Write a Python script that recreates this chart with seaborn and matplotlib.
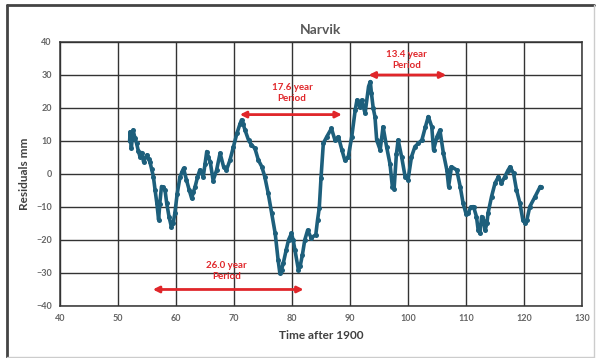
import matplotlib
matplotlib.use("Agg")
from matplotlib import pyplot as plt
from matplotlib.lines import Line2D
import seaborn as sns
import pandas as pd

# Narvik residuals
years = [52.0, 52.1, 52.3, 52.6, 52.9, 53.2, 53.5, 53.8, 54.1, 54.4, 55.0, 55.3,
         55.5, 55.8, 56.1, 56.4, 56.7, 57.0, 57.2, 57.5, 57.8, 58.1, 58.4, 58.8,
         59.2, 59.5, 59.8, 60.2, 60.7, 61.0, 61.3, 61.8, 62.3, 62.7, 63.0, 63.3,
         63.7, 64.1, 64.7, 65.0, 65.3, 65.6, 65.9, 66.4, 67.0, 67.6, 68.2, 68.7,
         69.3, 69.9, 70.5, 71.0, 71.3, 71.6, 71.9, 72.5, 73.0, 73.6, 74.2, 74.8,
         75.3, 75.9, 76.5, 77.1, 77.6, 77.9, 78.2, 78.5, 79.0, 79.4, 79.9, 80.2,
         80.5, 81.1, 81.4, 81.8, 82.2, 82.7, 83.3, 84.1, 84.4, 84.7, 85.0, 85.4,
         86.0, 86.8, 87.4, 88.0, 88.6, 89.1, 89.7, 90.3, 90.9, 91.2, 91.7, 92.0,
         92.6, 93.2, 93.5, 93.7, 94.0, 94.3, 94.6, 95.2, 95.7, 96.3, 96.9, 97.3,
         97.6, 98.0, 98.3, 98.9, 99.5, 100.0, 100.6, 101.2, 101.8, 102.4, 103.0,
         103.5, 104.1, 104.4, 105.0, 105.5, 106.1, 106.7, 107.0, 107.5, 108.4,
         109.0, 109.5, 110.0, 110.4, 110.8, 111.3, 111.8, 112.1, 112.4, 112.7,
         113.0, 113.3, 113.6, 113.8, 114.4, 115.0, 115.6, 116.1, 116.7, 117.2,
         117.6, 118.2, 118.7, 119.3, 119.8, 120.2, 120.5, 121.0, 121.9, 122.8,
         123.0]
residuals = [10, 12.8, 8, 13.3, 11, 9.3, 7, 5.2, 6.5, 3.7, 5.8, 4.5,
             3.7, 1.5, -0.8, -5, -8.9, -13.9, -9, -3.8, -4, -4.8, -8.9, -13,
             -16, -15, -11.9, -6, -0.8, 0.5, 1.7, -1.8, -5, -7.4, -5.5, -3.8,
             -1, 1.2, -0.8, 3, 6.8, 5, 3.7, -2, 1.2, 6.3, 2.2, 1.2,
             4.2, 8.3, 12.3, 15, 16.4, 15, 13.3, 10.3, 8.8, 7.8, 4.2, 2.2,
             -0.8, -5.9, -11.9, -18, -26, -30, -29, -27, -23, -20, -18, -20,
             -23, -29, -28, -24.4, -20, -17, -19.4, -18.4, -14, -10.3, -1.2, 9.3,
             11.3, 13.8, 10.3, 11.3, 7.3, 4.2, 5.2, 11.3, 19.4, 22.4, 20.4, 22.4,
             18.4, 26.5, 28, 24.4, 20, 17.4, 10.3, 7.3, 14.3, 8.3, 3, -3.8,
             -4.5, 6, 10.3, 5.2, -0.8, -1.8, 5.2, 8.3, 9.3, 10.3, 14.3,
             17.4, 14.3, 7.3, 11.3, 13.3, 6.3, 1.2, -3.8, 2.2, 1.2,
             -3.8, -8.9, -12, -11.9, -10, -9.9, -12.9, -17, -18, -12.9,
             -13.9, -17, -15, -11.9, -6.9, -2.8, -0.8, -2.8, -0.8, 1,
             2.2, 0.2, -4.8, -8.9, -13.9, -15, -13.9, -9.9, -6.9, -3.8,
             -4]

# period arrows: start, end, arrow height, label
period_start = [71.0, 93.2, 56.0]
period_end = [88.6, 106.6, 82.0]
period_level = [18, 30, -35]
period_labels = ["17.6 year\nPeriod", "13.4 year\nPeriod", "26.0 year\nPeriod"]
label_x = [80.0, 99.7, 68.7]
label_y = [24.5, 34.5, -29.5]

df = pd.DataFrame({"Time": years, "Residual": residuals})

sns.set_style("white")
plt.rcParams['font.family'] = ['Lato', 'DejaVu Sans']

fig = plt.figure(figsize=(5.96, 3.58), dpi=100)
ax = fig.add_axes([0.1007, 0.1453, 0.8758, 0.7374])

sns.lineplot(data=df, x="Time", y="Residual", ax=ax, color="#1d5f7c",
             linewidth=2.6, marker="o", markersize=3.6, markeredgewidth=0)

red = "#e0262a"
for s, e, lvl, lab, tx, ty in zip(period_start, period_end, period_level,
                                  period_labels, label_x, label_y):
    ax.annotate("", xy=(e, lvl), xytext=(s, lvl),
                arrowprops=dict(arrowstyle="<|-|>", color=red, lw=2,
                                mutation_scale=9, shrinkA=0, shrinkB=0))
    ax.text(tx, ty, lab, color=red, fontsize=7, fontweight="bold",
            ha="center", va="center", linespacing=1.3)

ax.set_xlim(40, 130)
ax.set_ylim(-40, 40)
ax.set_xticks(range(40, 131, 10))
ax.set_yticks(range(-40, 41, 10))
ax.grid(True, color="#333333", linewidth=1.0)
for sp in ax.spines.values():
    sp.set_color("#333333")
    sp.set_linewidth(1.1)
ax.tick_params(axis="both", length=0, labelsize=6.5, labelcolor="#666666", pad=6)
for lbl in ax.get_xticklabels() + ax.get_yticklabels():
    lbl.set_fontweight("bold")

ax.set_xlabel("Time after 1900", fontsize=8.5, fontweight="bold", color="#404040", labelpad=5)
ax.set_ylabel("Residuals mm", fontsize=8.5, fontweight="bold", color="#404040", labelpad=4)
ax.set_title("Narvik", fontsize=10, fontweight="bold", color="#595959", pad=6)

# outer chart frame
fig.add_artist(Line2D([7 / 596, 7 / 596], [1 / 358, 353 / 358], color="#444444", lw=2, transform=fig.transFigure))
fig.add_artist(Line2D([7 / 596, 594 / 596], [353 / 358, 353 / 358], color="#444444", lw=2, transform=fig.transFigure))
fig.add_artist(Line2D([7 / 596, 594 / 596], [1.5 / 358, 1.5 / 358], color="#cccccc", lw=1, transform=fig.transFigure))
fig.add_artist(Line2D([594 / 596, 594 / 596], [1 / 358, 353 / 358], color="#cccccc", lw=1, transform=fig.transFigure))

fig.savefig("out.png", dpi=100, facecolor="white")
